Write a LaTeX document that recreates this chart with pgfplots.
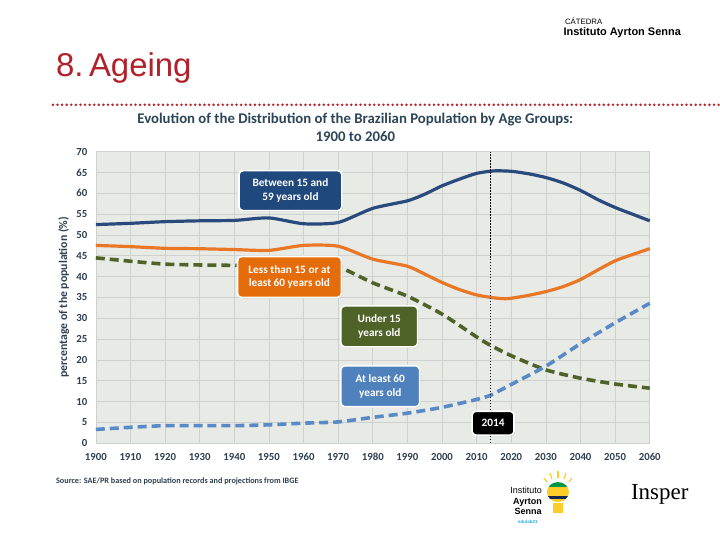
\documentclass[border=0pt]{standalone}
\usepackage{pgfplots}
\pgfplotsset{compat=1.18}
\usepackage{fontspec}
\setmainfont{Carlito}
\newfontfamily\arialf{Liberation Sans}
\newfontfamily\seriff{Liberation Serif}
\usetikzlibrary{shadows}
\definecolor{titlered}{RGB}{178,32,42}
\definecolor{dotred}{RGB}{180,40,50}
\definecolor{plotbg}{RGB}{232,234,230}
\definecolor{gridc}{RGB}{206,209,205}
\definecolor{ticktext}{RGB}{45,64,82}
\definecolor{ctitle}{RGB}{44,70,88}
\definecolor{dblue}{RGB}{40,74,124}
\definecolor{dbluebox}{RGB}{31,73,125}
\definecolor{orangel}{RGB}{232,119,38}
\definecolor{orangebox}{RGB}{228,108,10}
\definecolor{greenl}{RGB}{79,98,40}
\definecolor{lblue}{RGB}{88,138,200}
\definecolor{lbluebox}{RGB}{79,129,189}
\definecolor{bulbyellow}{RGB}{250,205,40}
\definecolor{bulbgreen}{RGB}{0,150,70}
\definecolor{bulbnavy}{RGB}{20,40,80}
\definecolor{edulab}{RGB}{40,170,220}
\begin{document}
\begin{tikzpicture}
\fill[white] (0pt,0pt) rectangle (720pt,-540pt);
% header
\node[anchor=west, inner sep=0, font=\arialf\fontsize{7.8}{8}\selectfont] at (566pt,-21pt) {CÁTEDRA};
\node[anchor=west, inner sep=0, font=\arialf\bfseries\fontsize{11}{12}\selectfont] at (564.5pt,-33pt) {Instituto Ayrton Senna};
\node[anchor=west, inner sep=0, text=titlered, font=\arialf\fontsize{33}{36}\selectfont] at (56pt,-68pt) {8.\,Ageing};
\draw[dotred, line width=2.8pt, dash pattern=on 0pt off 4.6pt, line cap=round] (53pt,-105pt) -- (720pt,-105pt);
% chart title
\node[align=center, text=ctitle, font=\bfseries\fontsize{14.8}{18}\selectfont] at (356pt,-128pt) {Evolution of the Distribution of the Brazilian Population by Age Groups:\\1900 to 2060};
\begin{axis}[
  at={(96pt,-444pt)}, anchor=south west, scale only axis,
  width=555pt, height=292pt,
  xmin=1900, xmax=2060, ymin=0, ymax=70,
  xtick={1900,1910,...,2060}, ytick={0,5,...,70},
  grid=major, major grid style={draw=gridc, line width=0.6pt},
  axis background/.style={fill=plotbg},
  axis line style={draw=none}, tick style={draw=none},
  ticklabel style={font=\bfseries\fontsize{10.8}{12}\selectfont, text=ticktext},
  /pgf/number format/assume math mode=true,
  /pgf/number format/1000 sep={},
  xticklabel style={anchor=base, inner sep=0pt, yshift=-17pt},
  yticklabel style={xshift=-5pt},
  ylabel={percentage of the population (\%)},
  ylabel style={at={(axis description cs:-0.058,0.5)}, anchor=center, text=ticktext, font=\bfseries\fontsize{11.8}{13}\selectfont},
  clip=false,
]
% 15-59
\addplot[dblue, line width=3.2pt, smooth, tension=0.4] coordinates {
(1900,52.5) (1910,52.8) (1920,53.2) (1930,53.4) (1940,53.5) (1950,54.1) (1960,52.7) (1970,53.0) (1980,56.4) (1990,58.2) (1995,59.8) (2000,61.8) (2005,63.4) (2010,64.8) (2015,65.4) (2020,65.3) (2025,64.7) (2030,63.8) (2035,62.5) (2040,60.7) (2045,58.5) (2050,56.6) (2055,55.0) (2060,53.4)};
% <15 or 60+
\addplot[orangel, line width=3.2pt, smooth, tension=0.4] coordinates {
(1900,47.5) (1910,47.2) (1920,46.8) (1930,46.7) (1940,46.5) (1950,46.3) (1960,47.5) (1970,47.3) (1980,44.2) (1990,42.5) (1995,40.6) (2000,38.6) (2005,36.9) (2010,35.6) (2015,34.9) (2018,34.7) (2020,34.8) (2025,35.5) (2030,36.4) (2035,37.6) (2040,39.3) (2045,41.6) (2050,43.8) (2055,45.3) (2060,46.7)};
% <15
\addplot[greenl, line width=3.6pt, smooth, tension=0.4, dash pattern=on 9pt off 5pt] coordinates {
(1900,44.5) (1910,43.7) (1920,43.0) (1930,42.8) (1940,42.7) (1950,42.6) (1960,42.7) (1970,42.3) (1980,38.5) (1990,35.3) (2000,31.0) (2010,25.5) (2014,23.5) (2020,21.0) (2030,17.6) (2040,15.6) (2050,14.2) (2060,13.2)};
% 60+
\addplot[lblue, line width=3.6pt, smooth, tension=0.4, dash pattern=on 9pt off 5pt] coordinates {
(1900,3.3) (1910,3.8) (1920,4.2) (1930,4.2) (1940,4.2) (1950,4.4) (1960,4.8) (1970,5.1) (1980,6.2) (1990,7.2) (2000,8.6) (2010,10.5) (2014,11.5) (2020,14.1) (2030,18.5) (2040,23.9) (2050,28.9) (2060,33.6)};
% 2014 marker
\addplot[black, line width=1.8pt, dash pattern=on 1.5pt off 1.5pt] coordinates {(2014,0) (2014,70)};
\end{axis}
% boxes
\tikzset{lab/.style={rounded corners=4pt, draw=white, line width=1.6pt, text=white, align=center,
  font=\bfseries\fontsize{11.3}{13.5}\selectfont, inner sep=0pt, drop shadow={shadow xshift=1pt, shadow yshift=-1pt, opacity=0.3}}}
\node[lab, fill=dbluebox, minimum width=103pt, minimum height=40pt] at (291pt,-191pt) {Between 15 and\\59 years old};
\node[lab, fill=orangebox, minimum width=104pt, minimum height=41pt] at (290pt,-277.5pt) {Less than 15 or at\\least 60 years old};
\node[lab, fill=greenl, minimum width=77pt, minimum height=41pt] at (380pt,-327pt) {Under 15\\years old};
\node[lab, fill=lbluebox, minimum width=79pt, minimum height=41pt] at (381pt,-387pt) {At least 60\\years old};
\node[lab, fill=black, minimum width=42pt, minimum height=24pt] at (494pt,-424pt) {2014};
% source
\node[anchor=west, inner sep=0, text=ticktext, font=\bfseries\fontsize{8.2}{9}\selectfont] at (56pt,-482pt) {Source: SAE/PR based on population records and projections from IBGE};
% Instituto Ayrton Senna logo
\node[anchor=east, inner sep=0, align=right, font=\arialf\fontsize{9}{10.5}\selectfont] at (543pt,-502pt) {Instituto\\\textbf{Ayrton}\\\textbf{Senna}};
\node[inner sep=0, text=edulab, font=\arialf\bfseries\fontsize{4.5}{5}\selectfont] at (529pt,-523pt) {edulab21};
\begin{scope}
\clip (559pt,-493pt) ellipse (11pt and 10pt);
\fill[bulbgreen] (545pt,-482pt) rectangle (573pt,-488pt);
\fill[bulbyellow] (545pt,-488pt) rectangle (573pt,-497pt);
\fill[bulbnavy] (545pt,-497pt) rectangle (573pt,-500pt);
\fill[bulbyellow] (545pt,-500pt) rectangle (573pt,-504pt);
\end{scope}
\fill[bulbyellow] (554pt,-504pt) rectangle (564pt,-514pt);
\draw[bulbyellow, line width=1.2pt] (559pt,-472pt) -- (559pt,-479pt);
\draw[bulbyellow, line width=1.2pt] (551pt,-474pt) -- (553pt,-480pt);
\draw[bulbyellow, line width=1.2pt] (567pt,-474pt) -- (565pt,-480pt);
\draw[bulbyellow, line width=1.2pt] (545pt,-479pt) -- (548pt,-483pt);
\draw[bulbyellow, line width=1.2pt] (573pt,-479pt) -- (570pt,-483pt);
% Insper
\node[inner sep=0, font=\seriff\fontsize{23}{25}\selectfont] at (661pt,-495pt) {Insper};
\end{tikzpicture}
\end{document}
